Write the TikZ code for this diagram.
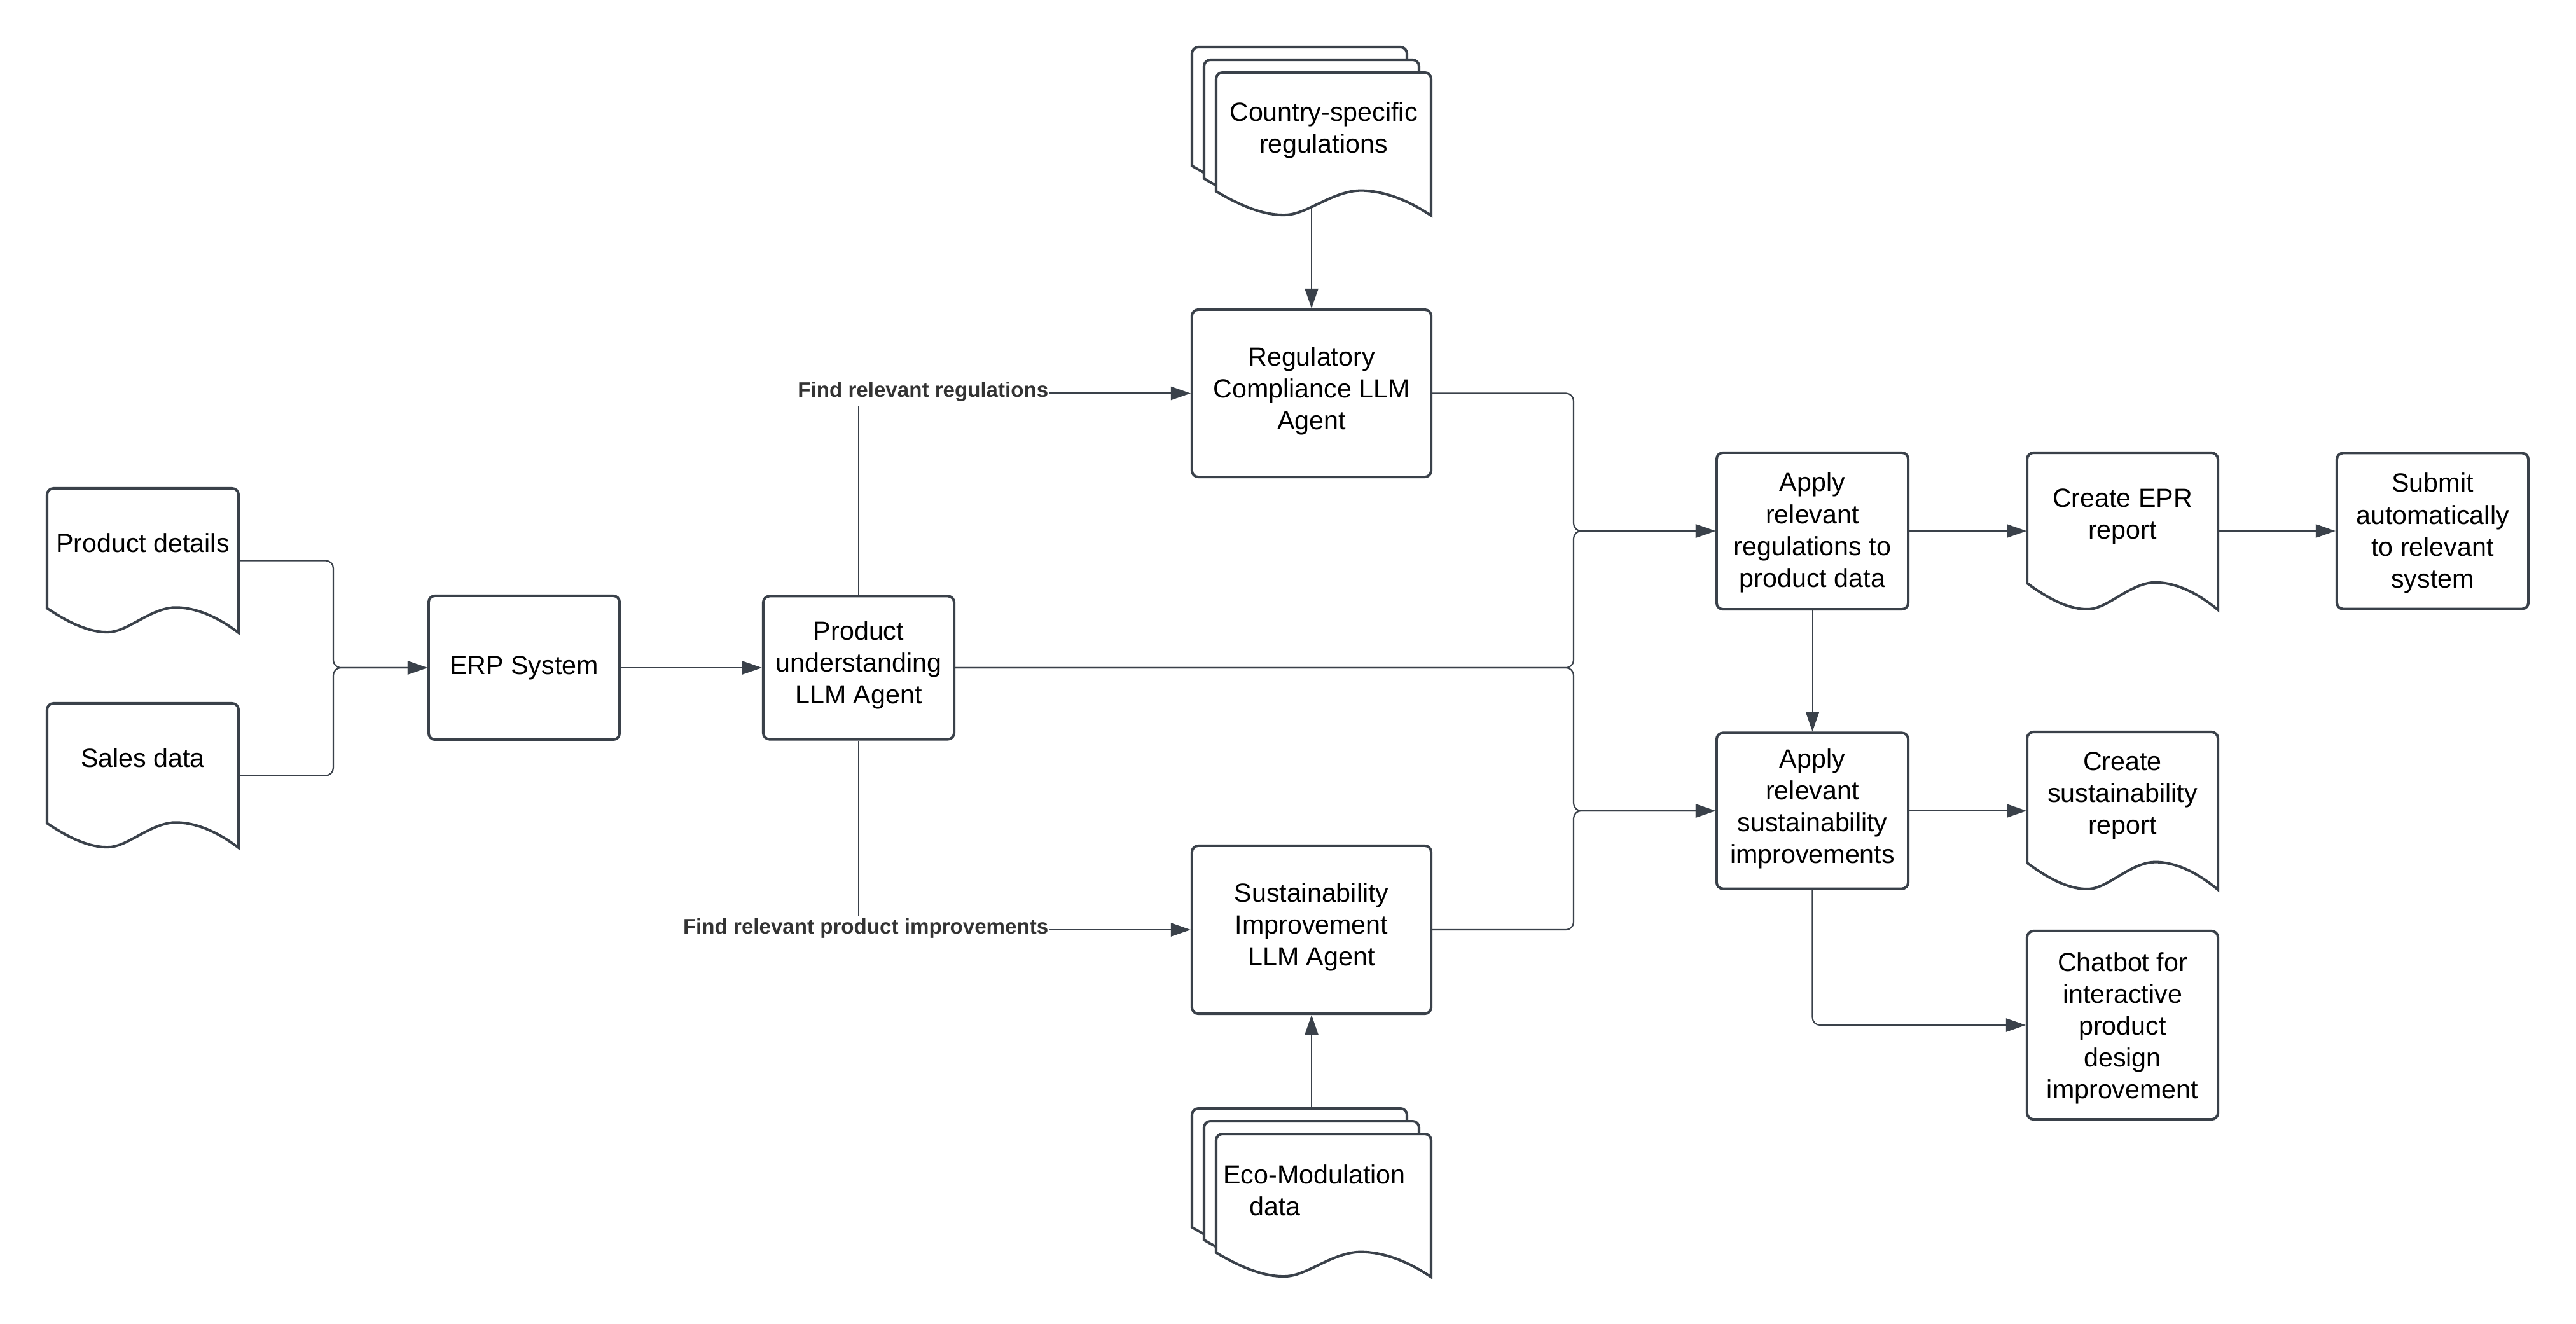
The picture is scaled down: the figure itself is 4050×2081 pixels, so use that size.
\documentclass[tikz,border=0pt]{standalone}
\usepackage{fontspec}
\setmainfont{Liberation Sans}
\usetikzlibrary{arrows.meta}
\definecolor{linegray}{HTML}{3A414A}
\definecolor{labelgray}{HTML}{333333}
\newcommand{\docsheet}[4]{\draw[sheet,shift={(#1,#2)},xscale=#3/100,yscale=#4/100]
	(0,83) .. controls (10,92) and (22,100.5) .. (33,99.5) .. controls (43,98.5) and (55,82) .. (68,82.5)
	.. controls (80,83) and (91,91) .. (100,100) -- (100,50) [rounded corners=.1cm] -- (100,0) -- (0,0) -- (0,50) [sharp corners] -- cycle;}
\begin{document}
\begin{tikzpicture}[x=0.01cm,y=-0.01cm,>={Triangle[length=.31cm,width=.21cm]},
	font=\fontsize{11.72pt}{14.226pt}\selectfont,
	sheet/.style={draw=linegray,fill=white,line width=1.15pt},
	lift/.style={align=center,inner sep=0pt,execute at begin node={\rule{0pt}{.52cm}},execute at end node={\rule[-#1]{0pt}{#1}}},
	roomy/.style={execute at begin node={\rule{0pt}{#1}}},
	stepbox/.style={lift=#1,draw=linegray,line width=1.15pt,rounded corners=.1cm},
	findlabel/.style={anchor=east,inner sep=0pt,text=labelgray,text height=.26cm,text depth=.14cm,font=\fontsize{9.42pt}{11pt}\selectfont\bfseries},
	link/.style={draw=linegray,line width=.62pt,rounded corners=.12cm}]
	\useasboundingbox (0,0) rectangle (4050,2081);
	\docsheet{74}{768}{301}{227}
	\docsheet{74}{1106}{301}{227}
	\docsheet{1874}{74}{338}{225}
	\docsheet{1893}{94}{338}{225}
	\docsheet{1912}{114}{338}{225}
	\docsheet{1874}{1743}{338}{225}
	\docsheet{1893}{1763}{338}{225}
	\docsheet{1912}{1783}{338}{225}
	\docsheet{3187}{712}{300}{247}
	\docsheet{3187}{1151}{300}{248}
	\node[lift=.78cm,minimum width=3.01cm,minimum height=2.27cm] (productdoc) at (224.5,881.5) {Product details};
	\node[lift=.78cm,minimum width=3.01cm,minimum height=2.27cm] (salesdoc) at (224.5,1219.5) {Sales data};
	\node[lift=.52cm,minimum width=3.38cm,minimum height=2.25cm] (countrydoc) at (2081,226.5) {Country-specific\\regulations};
	\node[lift=.47cm,align=left] (ecodoc) at (2066.5,1895.5) {Eco-Modulation\\\hspace*{.41cm}data};
	\node[lift=.53cm,minimum width=3cm,minimum height=2.47cm] (eprdoc) at (3337,835) {Create EPR\\report};
	\node[lift=.55cm,minimum width=3cm,minimum height=2.48cm] (susdoc) at (3337,1275) {Create\\sustainability\\report};
	\node[stepbox=.32cm,minimum width=3cm,minimum height=2.26cm] (erp) at (824,1050) {ERP System};
	\node[stepbox=.16cm,minimum width=3cm,minimum height=2.25cm] (productagent) at (1350,1050) {Product\\understanding\\LLM Agent};
	\node[stepbox=.16cm,minimum width=3.76cm,minimum height=2.63cm] (regagent) at (2062,618.5) {Regulatory\\Compliance LLM\\Agent};
	\node[stepbox=.16cm,minimum width=3.76cm,minimum height=2.64cm] (susagent) at (2062,1462) {Sustainability\\Improvement\\LLM Agent};
	\node[stepbox=.3cm,roomy=2.06cm,minimum width=3.01cm,minimum height=2.46cm] (applyreg) at (2849.5,835) {Apply\\relevant\\regulations to\\product data};
	\node[stepbox=.14cm,minimum width=3.01cm,minimum height=2.45cm] (applysus) at (2849.5,1275) {Apply\\relevant\\sustainability\\improvements};
	\node[stepbox=.3cm,roomy=2.08cm,minimum width=3.01cm,minimum height=2.45cm] (submit) at (3824.5,835) {Submit\\automatically\\to relevant\\system};
	\node[stepbox=.3cm,roomy=2.61cm,minimum width=3cm,minimum height=2.96cm] (chatbot) at (3337,1612) {Chatbot for\\interactive\\product\\design\\improvement};
	\node[findlabel] (findreg) at (1649,618.5) {Find relevant regulations};
	\node[findlabel] (findsus) at (1649,1462) {Find relevant product improvements};
	\coordinate (mergein) at (524,1050);
	\coordinate (mergereg) at (2474,835);
	\coordinate (mergesus) at (2474,1275);
	\coordinate (countryout) at (2062,328);
	\coordinate (ecoout) at (2062,1743);
	\draw[link,->] (productdoc.east) -| (mergein) -- (erp.west);
	\draw[link,->] (salesdoc.east) -| (mergein) -- (erp.west);
	\draw[link,->] (erp.east) -- (productagent.west);
	\draw[link] (productagent.north) -- (productagent.north |- findreg.south);
	\draw[link] (productagent.south) -- (productagent.south |- findsus.north);
	\draw[link,->] (findreg.east) -- (regagent.west);
	\draw[link,->] (findsus.east) -- (susagent.west);
	\draw[link,->] (countryout) -- (regagent.north);
	\draw[link,->] (ecoout) -- (susagent.south);
	\draw[link,->] (regagent.east) -| (mergereg) -- (applyreg.west);
	\draw[link,->] (productagent.east) -| (mergereg) -- (applyreg.west);
	\draw[link,->] (productagent.east) -| (mergesus) -- (applysus.west);
	\draw[link,->] (susagent.east) -| (mergesus) -- (applysus.west);
	\draw[link,->] (applyreg.east) -- (eprdoc.west);
	\draw[link,->] (eprdoc.east) -- (submit.west);
	\draw[link,->,line width=.45pt] (applyreg.south) -- (applysus.north);
	\draw[link,->] (applysus.east) -- (susdoc.west);
	\draw[link,->] (applysus.south) |- (chatbot.west);
\end{tikzpicture}
\end{document}
